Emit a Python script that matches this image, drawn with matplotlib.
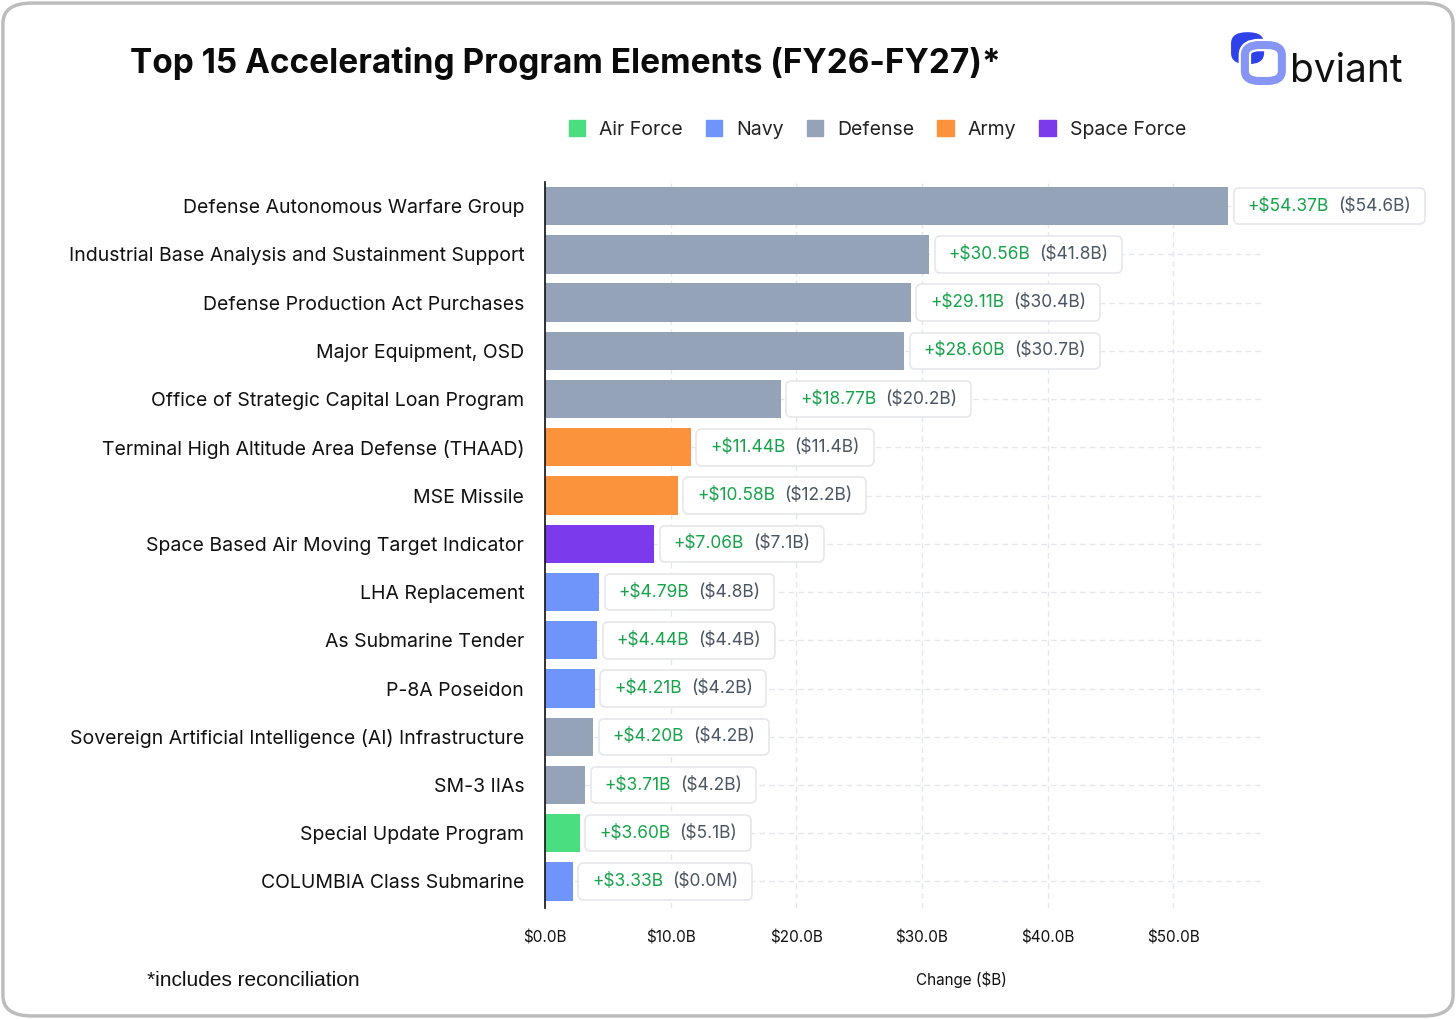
import matplotlib.pyplot as plt
from matplotlib.patches import FancyBboxPatch, Patch
from matplotlib.offsetbox import TextArea, HPacker, AnnotationBbox, DrawingArea
from matplotlib.ticker import FuncFormatter

plt.rcParams['font.family'] = ['Inter', 'DejaVu Sans']

programs = [
    "Defense Autonomous Warfare Group",
    "Industrial Base Analysis and Sustainment Support",
    "Defense Production Act Purchases",
    "Major Equipment, OSD",
    "Office of Strategic Capital Loan Program",
    "Terminal High Altitude Area Defense (THAAD)",
    "MSE Missile",
    "Space Based Air Moving Target Indicator",
    "LHA Replacement",
    "As Submarine Tender",
    "P-8A Poseidon",
    "Sovereign Artificial Intelligence (AI) Infrastructure",
    "SM-3 IIAs",
    "Special Update Program",
    "COLUMBIA Class Submarine",
]
# bar lengths as drawn in the picture ($B)
bar_len = [54.37, 30.56, 29.11, 28.60, 18.77, 11.6, 10.58, 8.7,
           4.3, 4.15, 3.95, 3.85, 3.2, 2.75, 2.2]
change_labels = ["+$54.37B", "+$30.56B", "+$29.11B", "+$28.60B", "+$18.77B",
                 "+$11.44B", "+$10.58B", "+$7.06B", "+$4.79B", "+$4.44B",
                 "+$4.21B", "+$4.20B", "+$3.71B", "+$3.60B", "+$3.33B"]
total_labels = ["($54.6B)", "($41.8B)", "($30.4B)", "($30.7B)", "($20.2B)",
                "($11.4B)", "($12.2B)", "($7.1B)", "($4.8B)", "($4.4B)",
                "($4.2B)", "($4.2B)", "($4.2B)", "($5.1B)", "($0.0M)"]
service = ["Defense", "Defense", "Defense", "Defense", "Defense",
           "Army", "Army", "Space Force", "Navy", "Navy",
           "Navy", "Defense", "Defense", "Air Force", "Navy"]

colors = {
    "Air Force": "#4ade80",
    "Navy": "#6f95fb",
    "Defense": "#94a3b8",
    "Army": "#fb923c",
    "Space Force": "#7c3aed",
}

fig = plt.figure(figsize=(14.56, 10.19), dpi=100)
ax = fig.add_axes([0.3743, 0.1089, 0.4945, 0.7125])

y = list(range(len(programs)))
ax.barh(y, bar_len, height=0.795, color=[colors[s] for s in service], zorder=2)
ax.set_ylim(len(programs) - 0.45, -0.5)
ax.set_xlim(0, 57.3)
ax.set_yticks(y)
ax.set_yticklabels(programs, fontsize=14, color="#111111")
ax.tick_params(axis='y', length=0, pad=15)
ax.set_xticks([0, 10, 20, 30, 40, 50])
ax.xaxis.set_major_formatter(FuncFormatter(lambda v, p: f"${v:.1f}B"))
ax.tick_params(axis='x', length=0, labelsize=11, pad=16.5, colors="#111111")
ax.set_xlabel("Change ($B)", fontsize=11, color="#111111")
ax.xaxis.set_label_coords(0.579, -0.087)

for s in ["top", "right", "bottom"]:
    ax.spines[s].set_visible(False)
ax.spines["left"].set_color("#111111")
ax.spines["left"].set_linewidth(1.2)
ax.spines["left"].set_zorder(3)

ax.grid(True, axis='both', linestyle=(0, (4, 3)), color="#e5e7eb", linewidth=1, zorder=0)
ax.set_axisbelow(True)

for i, (v, a, b) in enumerate(zip(bar_len, change_labels, total_labels)):
    t1 = TextArea(a, textprops=dict(color="#16a34a", fontsize=12.5))
    t2 = TextArea(b, textprops=dict(color="#4b5563", fontsize=12.5))
    inner = HPacker(children=[t1, t2], pad=0, sep=6.5, align="center")
    pack = HPacker(children=[DrawingArea(0, 0), inner, DrawingArea(0, 0)],
                   pad=0, sep=3, align="center")
    ab = AnnotationBbox(pack, (v, i), xybox=(11, 0), xycoords='data',
                        boxcoords='offset points', box_alignment=(0, 0.5),
                        frameon=True,
                        bboxprops=dict(boxstyle="round,pad=0.7,rounding_size=0.4",
                                       fc="white", ec="#e5e7eb", lw=1.2),
                        zorder=4)
    ax.add_artist(ab)

# title
fig.text(0.089, 0.938, "Top 15 Accelerating Program Elements (FY26-FY27)*",
         fontsize=24, fontweight='bold', color="#0b0b0b", va='center')

# legend
handles = [Patch(color=colors[k], label=k) for k in colors]
fig.legend(handles=handles, loc='center', bbox_to_anchor=(0.6025, 0.873), ncol=5,
           frameon=False, fontsize=14, handlelength=0.85, handleheight=0.85,
           columnspacing=1.2, handletextpad=0.7, labelcolor="#222222")

# footnote
fig.text(0.101, 0.038, "*includes reconciliation", fontsize=15,
         family=['Liberation Sans', 'DejaVu Sans'], color="#111111", va='center')

# logo
fig.patches.append(FancyBboxPatch((0.8455, 0.937), 0.0227, 0.0314,
                                  boxstyle="round,pad=0,rounding_size=0.011",
                                  transform=fig.transFigure, fc="#2f42ea", ec="none"))
fig.patches.append(FancyBboxPatch((0.855, 0.9205), 0.0254, 0.0353,
                                  boxstyle="round,pad=0,rounding_size=0.01",
                                  transform=fig.transFigure, fc="none", ec="white", lw=9))
fig.patches.append(FancyBboxPatch((0.855, 0.9205), 0.0254, 0.0353,
                                  boxstyle="round,pad=0,rounding_size=0.01",
                                  transform=fig.transFigure, fc="none", ec="#8795f5", lw=5.8))
fig.text(0.886, 0.930, "bviant", fontsize=28, color="#111111", va='center')

# outer border
fig.patches.append(FancyBboxPatch((0.002, 0.003), 0.996, 0.994,
                                  boxstyle="round,pad=0,rounding_size=0.02",
                                  transform=fig.transFigure, fc="none",
                                  ec="#bdbdbd", lw=2.5))

fig.savefig("out.png", dpi=100, facecolor="white")
